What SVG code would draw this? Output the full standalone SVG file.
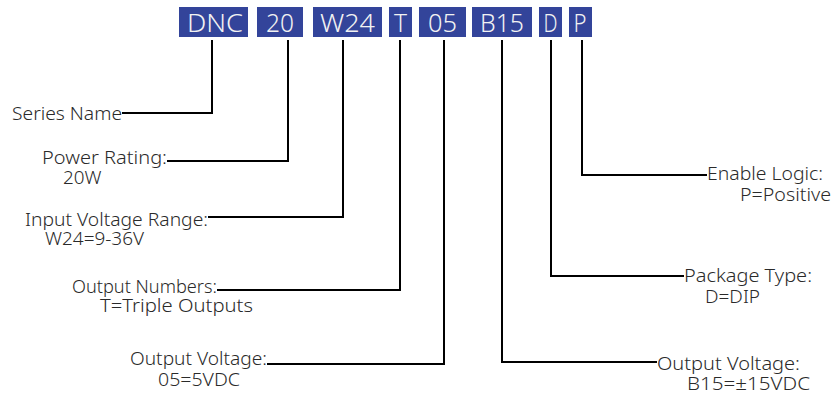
<svg xmlns="http://www.w3.org/2000/svg" width="832" height="394" viewBox="0 0 832 394">
<style>
.box{fill:#33449a}
.bt{font-family:"Noto Sans","Liberation Sans",sans-serif;font-size:26px;fill:#f2f2f2;font-weight:300}
.lb{font-family:"Noto Sans","Liberation Sans",sans-serif;font-size:18.5px;fill:#2a2a2a;font-weight:300}
.ln{fill:none;stroke:#000;stroke-width:2}
</style>
<rect width="832" height="394" fill="#fff"/>
<g id="code">
<g id="n-dnc"><rect class="box" x="179" y="7" width="69" height="30"/><text class="bt" x="187" y="32" textLength="56" lengthAdjust="spacingAndGlyphs">DNC</text></g>
<g id="n-20"><rect class="box" x="257" y="7" width="46" height="30"/><text class="bt" x="266" y="32" textLength="28" lengthAdjust="spacingAndGlyphs">20</text></g>
<g id="n-w24"><rect class="box" x="313" y="7" width="69" height="30"/><text class="bt" x="320" y="32" textLength="55" lengthAdjust="spacingAndGlyphs">W24</text></g>
<g id="n-t"><rect class="box" x="389" y="7" width="23" height="30"/><text class="bt" x="394" y="32" textLength="13" lengthAdjust="spacingAndGlyphs">T</text></g>
<g id="n-05"><rect class="box" x="419" y="7" width="47" height="30"/><text class="bt" x="428" y="32" textLength="29" lengthAdjust="spacingAndGlyphs">05</text></g>
<g id="n-b15"><rect class="box" x="472" y="7" width="60" height="30"/><text class="bt" x="480" y="32" textLength="44" lengthAdjust="spacingAndGlyphs">B15</text></g>
<g id="n-d"><rect class="box" x="539" y="7" width="23" height="30"/><text class="bt" x="543.5" y="32" textLength="14" lengthAdjust="spacingAndGlyphs">D</text></g>
<g id="n-p"><rect class="box" x="569" y="7" width="23" height="30"/><text class="bt" x="573.5" y="32" textLength="13" lengthAdjust="spacingAndGlyphs">P</text></g>
</g>
<g id="connectors">
<path class="ln" d="M212,40 V113 H122"/>
<path class="ln" d="M288,40 V161 H167"/>
<path class="ln" d="M343,40 V217 H208"/>
<path class="ln" d="M400,40 V290 H217"/>
<path class="ln" d="M444,40 V364 H267"/>
<path class="ln" d="M502,40 V362 H657"/>
<path class="ln" d="M551,40 V276 H684"/>
<path class="ln" d="M582,40 V175 H707"/>
</g>
<g id="l-series"><text class="lb" x="12" y="120" textLength="110" lengthAdjust="spacingAndGlyphs">Series Name</text></g>
<g id="l-power"><text class="lb" x="42" y="164" textLength="125" lengthAdjust="spacingAndGlyphs">Power Rating:</text><text class="lb" x="63" y="184" textLength="38.5" lengthAdjust="spacingAndGlyphs">20W</text></g>
<g id="l-input"><text class="lb" x="25" y="226" textLength="183" lengthAdjust="spacingAndGlyphs">Input Voltage Range:</text><text class="lb" x="45" y="245" textLength="99" lengthAdjust="spacingAndGlyphs">W24=9-36V</text></g>
<g id="l-outnum"><text class="lb" x="72" y="293" textLength="145" lengthAdjust="spacingAndGlyphs">Output Numbers:</text><text class="lb" x="100" y="312" textLength="153" lengthAdjust="spacingAndGlyphs">T=Triple Outputs</text></g>
<g id="l-outv1"><text class="lb" x="130" y="365" textLength="137" lengthAdjust="spacingAndGlyphs">Output Voltage:</text><text class="lb" x="158" y="386" textLength="82" lengthAdjust="spacingAndGlyphs">05=5VDC</text></g>
<g id="l-enable"><text class="lb" x="707" y="180" textLength="116" lengthAdjust="spacingAndGlyphs">Enable Logic:</text><text class="lb" x="740" y="200.5" textLength="91" lengthAdjust="spacingAndGlyphs">P=Positive</text></g>
<g id="l-package"><text class="lb" x="684" y="282" textLength="128" lengthAdjust="spacingAndGlyphs">Package Type:</text><text class="lb" x="705" y="303" textLength="55" lengthAdjust="spacingAndGlyphs">D=DIP</text></g>
<g id="l-outv2"><text class="lb" x="657" y="370" textLength="143" lengthAdjust="spacingAndGlyphs">Output Voltage:</text><text class="lb" x="687" y="389.5" textLength="123" lengthAdjust="spacingAndGlyphs">B15=±15VDC</text></g>
</svg>
